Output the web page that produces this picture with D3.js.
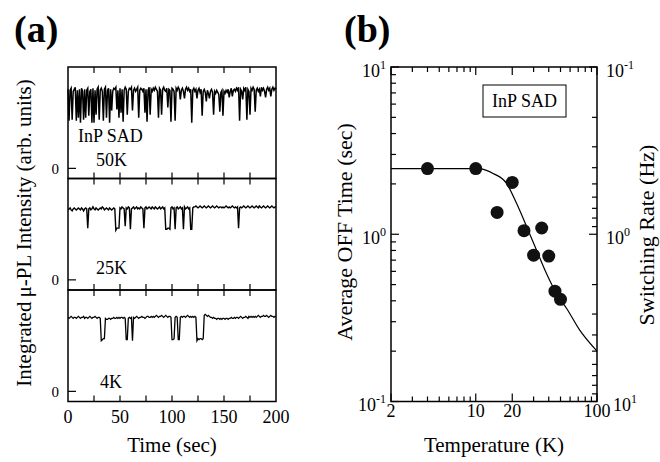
<!DOCTYPE html>
<html>
<head>
<meta charset="utf-8">
<script src="https://cdn.jsdelivr.net/npm/d3@7/dist/d3.min.js"></script>
<style>
body { margin: 0; background: #fff; }
text { font-family: "Liberation Serif", "Times New Roman", serif; fill: #000; }
</style>
</head>
<body>
<div id="chart"></div>
<script>
// panel (a): integrated PL traces, one sample per second, arb. units (0 = zero line)
const sampleStep = 1;
const trace50K = [
  78,47,77,79,48,76,78,80,47,77,
  50,78,45,79,76,48,78,50,77,79,
  52,76,78,45,79,45,77,53,78,80,
  48,77,79,76,47,78,80,50,77,79,
  45,78,57,76,79,78,80,58,77,50,
  79,55,78,46,77,80,78,53,76,79,
  78,80,57,77,79,76,78,80,50,77,
  79,78,76,79,55,78,46,77,80,53,
  78,76,79,77,80,78,76,50,79,77,
  53,78,80,77,76,79,60,78,77,46,
  79,78,76,47,79,77,80,78,68,77,
  79,76,69,78,80,77,79,76,78,45,
  77,79,76,78,69,77,79,75,78,52,
  76,78,75,66,77,74,69,76,78,75,
  53,76,74,77,75,73,56,75,77,52,
  76,74,77,75,78,70,76,79,71,77,
  78,76,79,77,80,47,78,76,68,79,
  77,80,48,78,76,53,79,77,80,78,
  56,77,79,76,78,71,80,77,79,76,
  70,78,80,77,79,71,78,80,77,79,
  78
];
const trace25K = [
  69,70,71,69,68,70,71,70,69,70,
  71,70,69,71,70,68,70,71,70,51,
  70,71,69,70,72,70,69,71,70,69,
  70,71,70,72,71,69,70,71,70,69,
  71,70,69,70,71,70,49,51,51,51,
  71,70,72,71,70,53,71,70,72,71,
  50,70,71,72,70,71,72,70,71,70,
  72,71,70,51,71,72,70,71,72,71,
  70,72,71,70,72,71,70,71,72,70,
  71,72,70,71,50,50,51,51,50,71,
  72,70,71,50,71,72,70,71,72,70,
  71,50,72,70,71,72,70,71,50,50,
  71,72,72,73,72,71,72,73,72,71,
  72,73,72,71,72,73,72,71,72,73,
  72,71,72,73,72,71,72,72,71,72,
  71,72,73,72,71,72,71,72,73,72,
  71,72,71,72,51,71,72,71,72,73,
  72,71,72,73,72,71,72,73,72,71,
  72,73,72,71,73,72,71,72,73,72,
  71,72,73,72,71,72,73,72,71,72,
  72
];
const trace4K = [
  73,72,73,74,73,72,73,73,72,73,
  74,73,72,73,73,74,72,73,73,72,
  73,74,73,72,73,73,74,73,72,73,
  73,72,50,51,52,52,72,71,71,72,
  72,71,72,72,73,72,72,73,72,73,
  72,73,73,72,73,72,51,51,72,73,
  72,73,50,73,72,73,74,73,72,73,
  73,74,73,73,72,73,74,74,73,73,
  74,73,74,73,74,75,74,73,74,74,
  75,74,73,74,75,74,73,74,74,73,
  51,51,52,73,74,73,51,51,73,74,
  73,74,74,73,74,75,74,73,74,73,
  74,73,74,73,50,52,51,52,52,51,
  52,75,76,75,74,75,74,73,73,72,
  73,72,72,71,72,72,71,72,71,72,
  72,71,72,72,71,72,72,73,72,72,
  73,72,73,73,72,73,74,73,72,73,
  73,74,73,72,74,73,74,73,74,73,
  74,73,74,75,74,73,74,74,75,74,
  74,75,74,73,74,75,74,74,73,74,
  74
];
const traceLabels = ["50K", "25K", "4K"];
const timeTicks = [0, 50, 100, 150, 200];

// panel (b): average OFF time vs temperature
const tempK = [4, 10, 15, 20, 25, 30, 35, 40, 45, 50];
const offTime = [2.47, 2.47, 1.35, 2.04, 1.05, 0.75, 1.09, 0.74, 0.457, 0.408];
const fitT = [2, 10, 11, 13.9, 18, 21.7, 26.3, 31.8, 38.4, 46.5, 56.2, 72.3, 100];
const fitTau = [2.47, 2.47, 2.46, 2.31, 2.01, 1.53, 1.11, 0.80, 0.58, 0.44, 0.36, 0.266, 0.20];
const tempTicks = [2, 10, 20, 100];

const width = 660;
const height = 462;

const svg = d3.select("div#chart").append("svg")
    .attr("width", width)
    .attr("height", height);

// ---------- panel (a) ----------
const ga = svg.append("g");
const aLeft = 68, aRight = 276, aTop = 67, panelH = 111.5;
const x = d3.scaleLinear().domain([0, 200]).range([aLeft, aRight]);
const traces = [trace50K, trace25K, trace4K];
const labelOffset = [-2, -6, -3.5];
const traceWidth = [1.5, 1.4, 1.3];

traces.forEach((tr, i) => {
    const top = aTop + i * panelH;
    const y = d3.scaleLinear().domain([-10, 100]).range([top + panelH, top]);
    const line = d3.line().x((d, j) => x(j * sampleStep)).y(d => y(d));

    ga.append("path")
        .datum(tr)
        .attr("d", line)
        .attr("fill", "none")
        .attr("stroke", "#000")
        .attr("stroke-width", traceWidth[i]);

    // zero tick + label
    ga.append("line")
        .attr("x1", aLeft).attr("x2", aLeft + 8)
        .attr("y1", y(0)).attr("y2", y(0))
        .attr("stroke", "#000").attr("stroke-width", 1.2);
    ga.append("text")
        .attr("x", 59).attr("y", y(0)).attr("dy", "0.35em")
        .attr("text-anchor", "end")
        .attr("font-size", 15)
        .text("0");

    // ticks along top and bottom, pointing inward
    const minor = d3.range(25, 200, 25);
    ga.selectAll(null).data(minor).enter().append("line")
        .attr("x1", d => x(d)).attr("x2", d => x(d))
        .attr("y1", top).attr("y2", top + 6)
        .attr("stroke", "#000").attr("stroke-width", 1.2);
    ga.selectAll(null).data(minor).enter().append("line")
        .attr("x1", d => x(d)).attr("x2", d => x(d))
        .attr("y1", top + panelH).attr("y2", top + panelH - 6)
        .attr("stroke", "#000").attr("stroke-width", 1.2);

    ga.append("text")
        .attr("x", i === 2 ? 100 : 96)
        .attr("y", y(0) + labelOffset[i])
        .attr("font-size", 18)
        .text(traceLabels[i]);

    ga.append("rect")
        .attr("x", aLeft).attr("y", top)
        .attr("width", aRight - aLeft).attr("height", panelH)
        .attr("fill", "none").attr("stroke", "#000").attr("stroke-width", 1.5);
});

ga.append("text").attr("x", 78).attr("y", 141.5).attr("font-size", 18).text("InP SAD");

ga.selectAll(null).data(timeTicks).enter().append("text")
    .attr("x", d => x(d)).attr("y", 423)
    .attr("text-anchor", "middle").attr("font-size", 18)
    .text(d => d);

ga.append("text")
    .attr("x", (aLeft + aRight) / 2).attr("y", 452)
    .attr("text-anchor", "middle").attr("font-size", 21)
    .text("Time (sec)");

ga.append("text")
    .attr("transform", `translate(31, 233) rotate(-90)`)
    .attr("text-anchor", "middle").attr("font-size", 21)
    .text("Integrated\u2009\u03bc-PL Intensity (arb. units)");

svg.append("text").attr("x", 14).attr("y", 42)
    .attr("font-size", 38).attr("font-weight", "bold").text("(a)");

// ---------- panel (b) ----------
const gb = svg.append("g");
const bLeft = 391, bRight = 597, bTop = 67, bBottom = 401.5;
const xT = d3.scaleLog().domain([2, 100]).range([bLeft, bRight]);
const yTau = d3.scaleLog().domain([0.1, 10]).range([bBottom, bTop]);
const yRate = d3.scaleLog().domain([0.1, 10]).range([bTop, bBottom]);

const tickLine = (x1, y1, x2, y2) => gb.append("line")
    .attr("x1", x1).attr("y1", y1).attr("x2", x2).attr("y2", y2)
    .attr("stroke", "#000").attr("stroke-width", 1.2);

xT.ticks().forEach(t => {
    const major = tempTicks.includes(t);
    const len = major ? 8 : 5;
    tickLine(xT(t), bBottom, xT(t), bBottom - len);
    tickLine(xT(t), bTop, xT(t), bTop + len);
});
yTau.ticks().forEach(t => {
    const major = Math.abs(Math.log10(t) % 1) < 1e-9;
    tickLine(bLeft, yTau(t), bLeft + (major ? 8 : 5), yTau(t));
});
yRate.ticks().forEach(t => {
    const major = Math.abs(Math.log10(t) % 1) < 1e-9;
    tickLine(bRight, yRate(t), bRight - (major ? 8 : 5), yRate(t));
});

gb.selectAll(null).data(tempTicks).enter().append("text")
    .attr("x", d => xT(d)).attr("y", 417)
    .attr("text-anchor", "middle").attr("font-size", 18)
    .text(d => d);

const powLabel = (sel, exp) => {
    sel.append("tspan").text("10");
    sel.append("tspan").attr("dy", -8).attr("font-size", 12).text(exp);
};
[10, 1, 0.1].forEach(v => {
    const e = Math.round(Math.log10(v));
    const t = gb.append("text").attr("x", 386).attr("y", yTau(v) + 9.5)
        .attr("text-anchor", "end").attr("font-size", 18);
    powLabel(t, e < 0 ? "-1" : String(e));
    const r = gb.append("text").attr("x", v === 10 ? 613 : 606).attr("y", yRate(v) + 9.5)
        .attr("font-size", 18);
    powLabel(r, e < 0 ? "-1" : String(e));
});

const fitLine = d3.line()
    .x((d, i) => xT(fitT[i]))
    .y(d => yTau(d))
    .curve(d3.curveMonotoneX);
gb.append("path")
    .datum(fitTau)
    .attr("d", fitLine)
    .attr("fill", "none").attr("stroke", "#000").attr("stroke-width", 1.2);

gb.selectAll(".dot").data(offTime).enter().append("circle")
    .attr("class", "dot")
    .attr("cx", (d, i) => xT(tempK[i]))
    .attr("cy", d => yTau(d))
    .attr("r", 6.5)
    .attr("fill", "#111");

gb.append("rect")
    .attr("x", bLeft).attr("y", bTop)
    .attr("width", bRight - bLeft).attr("height", bBottom - bTop)
    .attr("fill", "none").attr("stroke", "#000").attr("stroke-width", 1.5);

gb.append("rect")
    .attr("x", 483).attr("y", 85).attr("width", 83).attr("height", 32)
    .attr("fill", "#fff").attr("stroke", "#000").attr("stroke-width", 1);
gb.append("text").attr("x", 524.5).attr("y", 107)
    .attr("text-anchor", "middle").attr("font-size", 18).text("InP SAD");

gb.append("text")
    .attr("x", (bLeft + bRight) / 2).attr("y", 452)
    .attr("text-anchor", "middle").attr("font-size", 21)
    .text("Temperature (K)");
gb.append("text")
    .attr("transform", `translate(352, 232) rotate(-90)`)
    .attr("text-anchor", "middle").attr("font-size", 22)
    .text("Average OFF Time (sec)");
gb.append("text")
    .attr("transform", `translate(654, 235) rotate(-90)`)
    .attr("text-anchor", "middle").attr("font-size", 22)
    .text("Switching Rate (Hz)");

svg.append("text").attr("x", 344).attr("y", 42)
    .attr("font-size", 38).attr("font-weight", "bold").text("(b)");
</script>
</body>
</html>
